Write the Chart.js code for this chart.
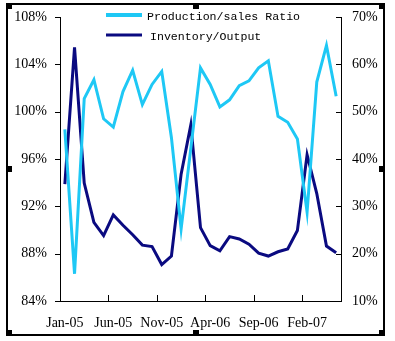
<!DOCTYPE html>
<html>
<head>
<meta charset="utf-8">
<script src="https://cdn.jsdelivr.net/npm/chart.js@4/dist/chart.umd.min.js"></script>
<style>
  html, body { margin: 0; padding: 0; background: #fff; }
  #chart { display: block; }
</style>
</head>
<body>
<canvas id="chart" width="395" height="341"></canvas>
<script>
// months Jan-05 .. May-07
const months = [
  'Jan-05', 'Feb-05', 'Mar-05', 'Apr-05', 'May-05', 'Jun-05', 'Jul-05', 'Aug-05', 'Sep-05', 'Oct-05',
  'Nov-05', 'Dec-05', 'Jan-06', 'Feb-06', 'Mar-06', 'Apr-06', 'May-06', 'Jun-06', 'Jul-06', 'Aug-06',
  'Sep-06', 'Oct-06', 'Nov-06', 'Dec-06', 'Jan-07', 'Feb-07', 'Mar-07', 'Apr-07', 'May-07'
];

// left axis, %
const prodSalesRatio = [
  98.5, 86.3, 101.1, 102.7, 99.4, 98.7, 101.7, 103.5, 100.6, 102.3,
  103.4, 97.8, 90.1, 96.9, 103.7, 102.3, 100.4, 101.0, 102.2, 102.6,
  103.7, 104.3, 99.6, 99.1, 97.7, 91.5, 102.5, 105.6, 101.3
];

// right axis, %
const inventoryOutput = [
  34.7, 63.6, 34.9, 26.6, 23.8, 28.2, 26.0, 24.0, 21.8, 21.5,
  17.7, 19.5, 36.8, 47.2, 25.5, 21.7, 20.6, 23.6, 23.1, 22.0,
  20.1, 19.5, 20.4, 21.0, 24.9, 40.9, 32.7, 21.6, 20.2
];

const leftTicks = [84, 88, 92, 96, 100, 104, 108];
const rightTicks = [10, 20, 30, 40, 50, 60, 70];

const labelEvery = 5;
const axisFont = { family: '"Liberation Serif", "Times New Roman", serif', size: 14 };

// frame, selection handles, tick marks and legend
const decorPlugin = {
  id: 'decor',
  afterDraw(chart) {
    const ctx = chart.ctx;
    const area = chart.chartArea;
    const x = chart.scales.x;
    const yL = chart.scales.yLeft;
    const yR = chart.scales.yRight;

    ctx.save();
    ctx.strokeStyle = '#000';
    ctx.lineWidth = 1;

    // tick marks
    ctx.beginPath();
    for (let i = labelEvery; i < months.length; i += labelEvery) {
      const px = Math.round((x.getPixelForValue(i - 1) + x.getPixelForValue(i)) / 2) + 0.5;
      ctx.moveTo(px, area.bottom);
      ctx.lineTo(px, area.bottom - 6);
    }
    leftTicks.forEach(v => {
      const py = Math.round(yL.getPixelForValue(v)) + 0.5;
      ctx.moveTo(area.left - 5, py);
      ctx.lineTo(area.left + 1, py);
    });
    rightTicks.forEach(v => {
      const py = Math.round(yR.getPixelForValue(v)) + 0.5;
      ctx.moveTo(area.right - 5, py);
      ctx.lineTo(area.right, py);
    });
    ctx.stroke();

    // outer frame
    ctx.lineWidth = 2;
    ctx.strokeRect(7, 4, 377, 331);
    ctx.fillStyle = '#000';
    [[6, 3], [193, 3], [379, 3], [6, 166], [379, 166], [6, 330], [193, 330], [379, 330]]
      .forEach(([hx, hy]) => ctx.fillRect(hx, hy, 6, 6));

    // legend
    ctx.font = '11.6px "Liberation Mono", "Courier New", monospace';
    ctx.textBaseline = 'middle';
    const rows = [[15, 147], [35, 150]];
    chart.data.datasets.forEach((ds, i) => {
      const [ly, tx] = rows[i];
      ctx.strokeStyle = ds.borderColor;
      ctx.lineWidth = i === 0 ? 4 : 3;
      ctx.beginPath();
      ctx.moveTo(106, ly);
      ctx.lineTo(142, ly);
      ctx.stroke();
      ctx.fillStyle = '#000';
      ctx.fillText(ds.label, tx, ly + 2);
    });
    ctx.restore();
  }
};

const fitY = width => s => {
  s.width = width;
  s.paddingTop = 0;
  s.paddingBottom = 0;
};

new Chart(document.getElementById('chart'), {
  type: 'line',
  data: {
    labels: months,
    datasets: [
      {
        label: 'Production/sales Ratio',
        data: prodSalesRatio,
        yAxisID: 'yLeft',
        borderColor: '#1ec8f5',
        borderWidth: 3,
        pointRadius: 0,
        tension: 0
      },
      {
        label: 'Inventory/Output',
        data: inventoryOutput,
        yAxisID: 'yRight',
        borderColor: '#0a0a80',
        borderWidth: 3,
        pointRadius: 0,
        tension: 0
      }
    ]
  },
  options: {
    responsive: false,
    animation: false,
    layout: { padding: { top: 17, left: 0, right: 0, bottom: 0 } },
    plugins: {
      legend: { display: false },
      tooltip: { enabled: false }
    },
    scales: {
      x: {
        offset: true,
        grid: { display: false, drawTicks: false },
        border: { display: true, color: '#000', width: 1 },
        ticks: {
          autoSkip: false,
          maxRotation: 0,
          padding: 14,
          color: '#000',
          font: axisFont,
          callback: (v, i) => (i % labelEvery === 0 ? months[i] : '')
        },
        afterFit: s => {
          s.height = 40;
          s.paddingLeft = 0;
          s.paddingRight = 0;
        }
      },
      yLeft: {
        position: 'left',
        min: 84,
        max: 108,
        grid: { display: false, drawTicks: false },
        border: { display: true, color: '#000', width: 1 },
        ticks: {
          stepSize: 4,
          padding: 13,
          color: '#000',
          font: axisFont,
          callback: v => v + '%'
        },
        afterFit: fitY(60)
      },
      yRight: {
        position: 'right',
        min: 10,
        max: 70,
        grid: { display: false, drawTicks: false },
        border: { display: true, color: '#000', width: 1 },
        ticks: {
          stepSize: 10,
          padding: 11,
          color: '#000',
          font: axisFont,
          callback: v => v + '%'
        },
        afterFit: fitY(54)
      }
    }
  },
  plugins: [decorPlugin]
});
</script>
</body>
</html>
